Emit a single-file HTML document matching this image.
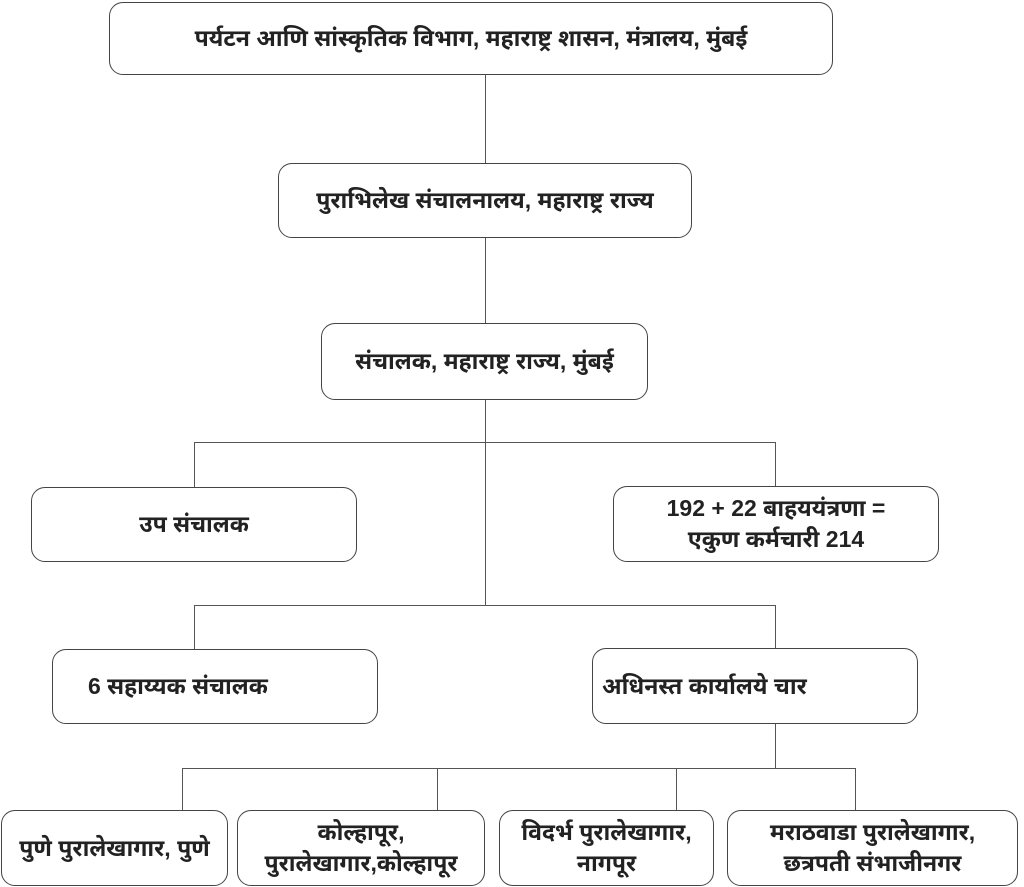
<!DOCTYPE html>
<html><head><meta charset="utf-8"><style>
body{margin:0;width:1024px;height:887px;background:#fff;position:relative;overflow:hidden;font-family:"Liberation Sans","Noto Sans Devanagari","Lohit Devanagari",sans-serif;font-weight:bold;color:#222}
.b{position:absolute;border:1.3px solid #444;border-radius:14px;box-sizing:border-box;display:flex;align-items:center;justify-content:center;text-align:center;font-size:23px;line-height:31px;background:#fff;white-space:nowrap}
.l{position:absolute;background:#555}
.h{height:1.3px}.v{width:1.3px}
</style></head><body>
<div class="l v" style="left:485px;top:75px;height:530px"></div>
<div class="l h" style="left:194px;top:442px;width:582px"></div>
<div class="l v" style="left:194px;top:442px;height:45px"></div>
<div class="l v" style="left:775px;top:442px;height:45px"></div>
<div class="l h" style="left:194px;top:605px;width:582px"></div>
<div class="l v" style="left:194px;top:605px;height:44px"></div>
<div class="l v" style="left:775px;top:605px;height:44px"></div>
<div class="l v" style="left:775px;top:724px;height:44px"></div>
<div class="l h" style="left:182px;top:768px;width:674px"></div>
<div class="l v" style="left:182px;top:768px;height:42px"></div>
<div class="l v" style="left:437px;top:768px;height:42px"></div>
<div class="l v" style="left:676px;top:768px;height:42px"></div>
<div class="l v" style="left:855px;top:768px;height:42px"></div>

<div class="b" style="left:109px;top:2px;width:724px;height:73px">पर्यटन आणि सांस्कृतिक विभाग, महाराष्ट्र शासन, मंत्रालय, मुंबई</div>
<div class="b" style="left:278px;top:163px;width:414px;height:75px">पुराभिलेख संचालनालय, महाराष्ट्र राज्य</div>
<div class="b" style="left:321px;top:323px;width:327px;height:77px">संचालक, महाराष्ट्र राज्य, मुंबई</div>
<div class="b" style="left:31px;top:487px;width:326px;height:75px">उप संचालक</div>
<div class="b" style="left:613px;top:486px;width:326px;height:76px">192 + 22 बाहययंत्रणा =<br>एकुण कर्मचारी 214</div>
<div class="b" style="left:52px;top:649px;width:326px;height:75px;justify-content:flex-start;padding-left:35px">6 सहाय्यक संचालक</div>
<div class="b" style="left:592px;top:648px;width:326px;height:76px;justify-content:flex-start;padding-left:9px">अधिनस्त कार्यालये चार</div>
<div class="b" style="left:1px;top:810px;width:227px;height:76px">पुणे पुरालेखागार, पुणे</div>
<div class="b" style="left:237px;top:810px;width:248px;height:76px">कोल्हापूर,<br>पुरालेखागार,कोल्हापूर</div>
<div class="b" style="left:499px;top:810px;width:215px;height:76px">विदर्भ पुरालेखागार,<br>नागपूर</div>
<div class="b" style="left:727px;top:810px;width:291px;height:76px">मराठवाडा पुरालेखागार,<br>छत्रपती संभाजीनगर</div>
</body></html>
